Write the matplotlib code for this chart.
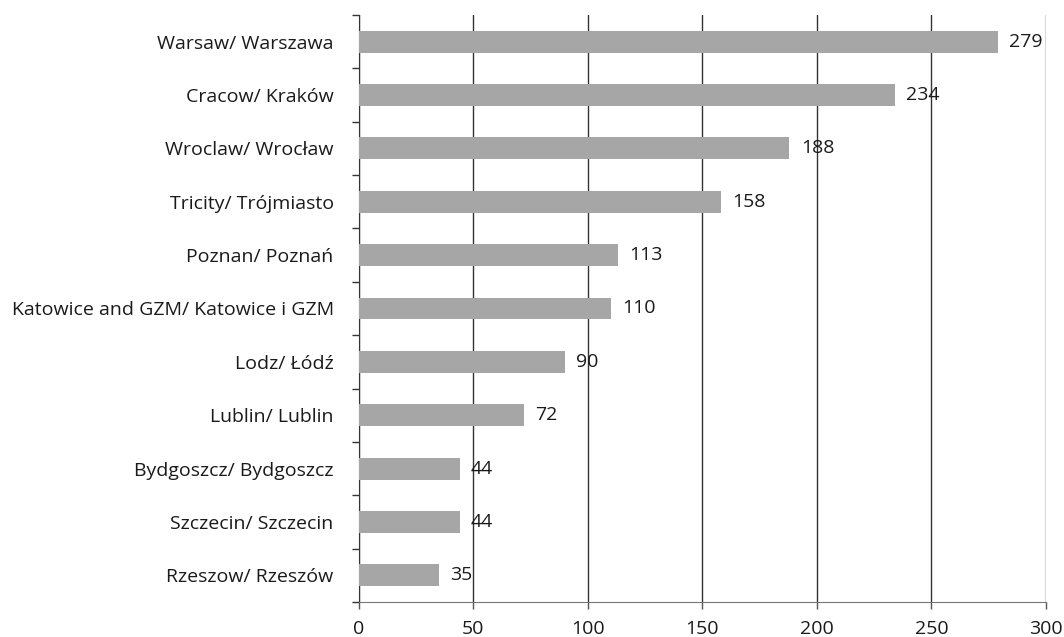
import matplotlib.pyplot as plt
import numpy as np

cities = ["Warsaw/ Warszawa", "Cracow/ Kraków", "Wroclaw/ Wrocław", "Tricity/ Trójmiasto",
          "Poznan/ Poznań", "Katowice and GZM/ Katowice i GZM", "Lodz/ Łódź",
          "Lublin/ Lublin", "Bydgoszcz/ Bydgoszcz", "Szczecin/ Szczecin", "Rzeszow/ Rzeszów"]
values = [279, 234, 188, 158, 113, 110, 90, 72, 44, 44, 35]
xticks = [0, 50, 100, 150, 200, 250, 300]

plt.rcParams['font.family'] = ['Open Sans', 'DejaVu Sans']
plt.rcParams['font.size'] = 14

fig = plt.figure(figsize=(10.64, 6.37), dpi=100)
ax = fig.add_axes([358.7 / 1064, 1 - 602 / 637, (1046 - 358.7) / 1064, (602 - 15) / 637])

y = np.arange(len(cities))
ax.barh(y, values, height=0.41, color='#a6a6a6', zorder=3)
for yi, v in zip(y, values):
    ax.text(v + 5.0, yi, str(v), va='center', ha='left', color='#1a1a1a', zorder=4)

ax.set_xlim(0, 300)
ax.set_ylim(len(cities) - 0.5, -0.5)
ax.set_xticks(xticks)
ax.set_yticks(y)
ax.set_yticklabels(cities, color='#1a1a1a')
ax.set_yticks(np.arange(-0.5, len(cities)), minor=True)
ax.tick_params(axis='y', which='major', length=0, pad=18)
ax.tick_params(axis='y', which='minor', length=5, width=1, color='#333333', direction='out')
ax.tick_params(axis='x', length=5, width=1, color='#555555', pad=8, labelcolor='#1a1a1a')

ax.grid(axis='x', color='#333333', linewidth=1, zorder=1)
ax.spines['top'].set_visible(False)
ax.spines['right'].set_visible(False)
ax.spines['left'].set_color('#333333')
ax.spines['bottom'].set_color('#777777')
ax.set_axisbelow(True)

fig.savefig('out.png', dpi=100)
